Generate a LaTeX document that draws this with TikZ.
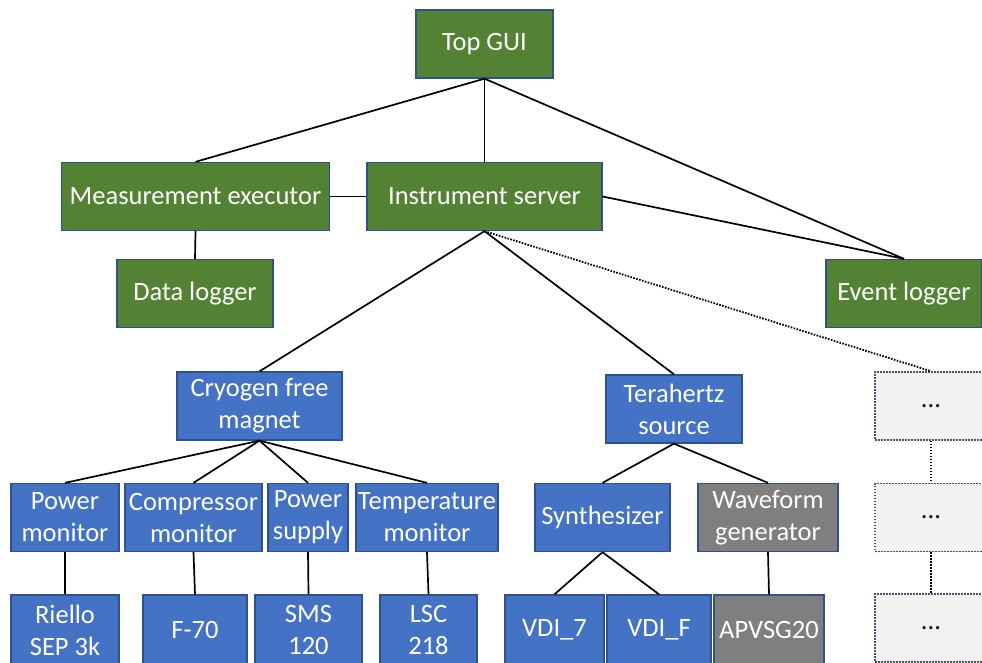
\documentclass[tikz,border=0pt]{standalone}
\usepackage{fontspec}
\setmainfont{Carlito}
\usepackage{xcolor}
\definecolor{guigreen}{HTML}{548235}
\definecolor{devblue}{HTML}{4472C4}
\definecolor{edgeblue}{HTML}{2F528F}
\definecolor{devgray}{HTML}{7F7F7F}
\definecolor{dotgray}{HTML}{F2F2F2}
\definecolor{dotedge}{HTML}{44546A}
\begin{document}
\begin{tikzpicture}[x=1pt, y=-1pt, line width=1.7pt,
  font=\fontsize{26.5}{32}\selectfont,
  box/.style={draw=edgeblue, line width=1.3pt, text=white, align=center, inner xsep=1pt, minimum height=68pt},
  gui/.style={box, fill=guigreen},
  dev/.style={box, fill=devblue},
  inst/.style={box, fill=devgray},
  more/.style={draw=dotedge, dash pattern=on 1.6pt off 1.4pt, line width=1.6pt, fill=dotgray, minimum width=112pt, minimum height=68pt},
  dots/.style={dash pattern=on 1.6pt off 1.4pt, line width=1.8pt}]
  \useasboundingbox (0,0) rectangle (982,662);
  \clip (0,0) rectangle (982,662);
  % software
  \node[gui, minimum width=137pt] (top) at (484.5,44) {Top GUI};
  \node[gui, minimum width=268pt] (meas) at (195.5,196.5) {Measurement executor};
  \node[gui, minimum width=235pt] (server) at (484.5,196.5) {Instrument server};
  \node[gui, minimum width=156pt] (datalog) at (195,293.5) {Data logger};
  \node[gui, minimum width=156pt] (eventlog) at (904,293.5) {Event logger};
  % instruments
  \node[dev, minimum width=165pt] (magnet) at (259.5,406) {Cryogen free\\magnet};
  \node[dev, minimum width=136pt] (thz) at (674,409) {Terahertz\\source};
  \node[more] (more1) at (931,406) {...};
  \node[more] (more2) at (931,517.5) {...};
  \node[more] (more3) at (931,628) {...};
  \node[dev, minimum width=108pt] (pmon) at (65,517.5) {Power\\monitor};
  \node[dev, minimum width=137pt] (cmon) at (193.5,517.5) {Compressor\\monitor};
  \node[dev, minimum width=80pt] (psup) at (308,517.5) {Power\\supply};
  \node[dev, minimum width=142pt] (tmon) at (427,517.5) {Temperature\\monitor};
  \node[dev, minimum width=135pt] (synth) at (602.5,517.5) {Synthesizer};
  \node[inst, minimum width=140pt] (wave) at (768,517.5) {Waveform\\generator};
  % devices
  \node[dev, minimum width=108pt, minimum height=70pt] (riello) at (65,630) {Riello\\SEP 3k};
  \node[dev, minimum width=104pt, minimum height=70pt] (f70) at (195,630) {F-70};
  \node[dev, minimum width=107pt, minimum height=70pt] (sms) at (308.5,630) {SMS\\120};
  \node[dev, minimum width=97pt, minimum height=70pt] (lsc) at (428.5,630) {LSC\\218};
  \node[dev, minimum width=99pt, minimum height=70pt] (vdi7) at (554.5,630) {VDI\_7};
  \node[dev, minimum width=104pt, minimum height=70pt] (vdif) at (659,630) {VDI\_F};
  \node[inst, minimum width=110pt, minimum height=70pt] (apvsg) at (769,630) {APVSG20};
  % links
  \draw (top.south) -- (meas.north);
  \draw (top.south) -- (server.north);
  \draw (top.south) -- (eventlog.north);
  \draw (server.east) -- (eventlog.north);
  \draw (meas.east) -- (server.west);
  \draw (meas.south) -- (datalog.north);
  \draw (server.south) -- (magnet.north);
  \draw (server.south) -- (thz.north);
  \draw[dots] (server.south) -- (more1.north);
  \draw[dots] (more1.south) -- (more2.north);
  \draw[dots] (more2.south) -- (more3.north);
  \foreach \n in {pmon, cmon, psup, tmon}
    \draw (magnet.south) -- (\n.north);
  \draw (thz.south) -- (synth.north);
  \draw (thz.south) -- (wave.north);
  \draw (pmon.south) -- (riello.north);
  \draw (cmon.south) -- (f70.north);
  \draw (psup.south) -- (sms.north);
  \draw (tmon.south) -- (lsc.north);
  \draw (synth.south) -- (vdi7.north);
  \draw (synth.south) -- (vdif.north);
  \draw (wave.south) -- (apvsg.north);
\end{tikzpicture}
\end{document}
